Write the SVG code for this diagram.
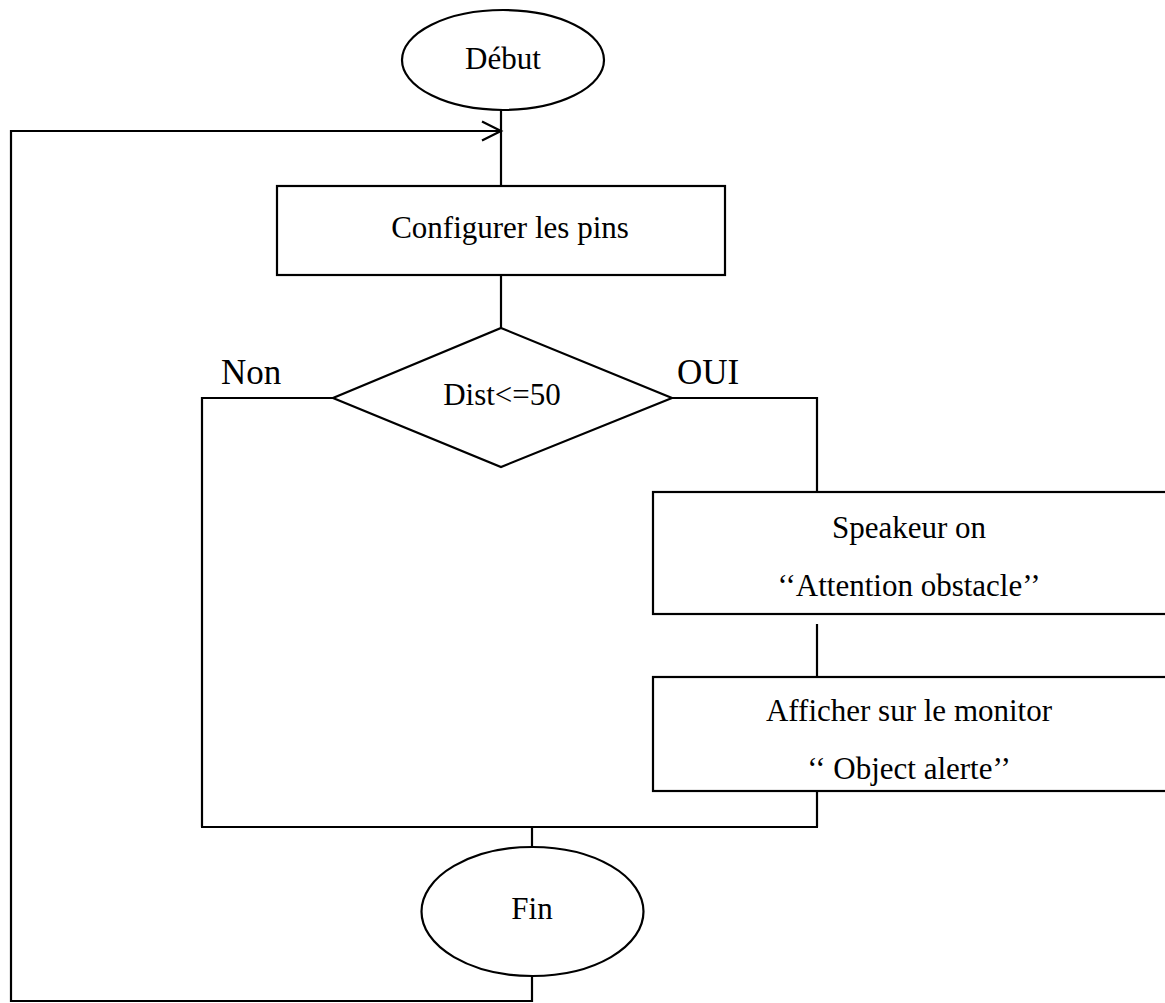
<svg xmlns="http://www.w3.org/2000/svg" width="1165" height="1003" viewBox="0 0 1165 1003">
  <style>
    .shape { fill: #ffffff; stroke: #000000; stroke-width: 2.2; }
    .wire { fill: none; stroke: #000000; stroke-width: 2.2; }
    .lbl { font-family: "Liberation Serif", "Times New Roman", serif; font-size: 31px; fill: #000000; text-anchor: middle; }
    .big { font-size: 35px; text-anchor: start; }
  </style>
  <defs>
    <marker id="openArrow" markerUnits="userSpaceOnUse" markerWidth="24" markerHeight="24" refX="20" refY="12" orient="auto">
      <path d="M1,2.5 L20,12 L1,21.5" fill="none" stroke="#000000" stroke-width="2.2"/>
    </marker>
  </defs>
  <rect x="0" y="0" width="1165" height="1003" fill="#ffffff"/>

  <g id="connectors">
    <!-- start to configuration -->
    <line class="wire" x1="501" y1="110" x2="501" y2="186"/>
    <!-- configuration to decision -->
    <line class="wire" x1="501" y1="275" x2="501" y2="328"/>
    <!-- Non branch -->
    <polyline class="wire" points="333,398 202,398 202,827"/>
    <!-- OUI branch -->
    <polyline class="wire" points="672,398 817,398 817,492"/>
    <line class="wire" x1="817" y1="624" x2="817" y2="677"/>
    <line class="wire" x1="817" y1="791" x2="817" y2="827"/>
    <!-- merge -->
    <line class="wire" x1="201" y1="827" x2="818" y2="827"/>
    <line class="wire" x1="532" y1="827" x2="532" y2="848"/>
    <!-- loop back -->
    <polyline class="wire" points="532,976 532,1001 11,1001 11,131 501,131" marker-end="url(#openArrow)"/>
  </g>

  <g id="debut">
    <ellipse class="shape" cx="503" cy="60" rx="101" ry="50"/>
    <text class="lbl" x="503" y="69">Début</text>
  </g>

  <g id="configurer">
    <rect class="shape" x="277" y="186" width="448" height="89"/>
    <text class="lbl" x="510" y="238">Configurer les pins</text>
  </g>

  <g id="decision">
    <polygon class="shape" points="501,328 672,398 501,467 333,398"/>
    <text class="lbl" x="502" y="405">Dist&lt;=50</text>
  </g>

  <g id="label-non">
    <text class="lbl big" x="221" y="384">Non</text>
  </g>

  <g id="label-oui">
    <text class="lbl big" x="677" y="384">OUI</text>
  </g>

  <g id="speaker">
    <rect class="shape" x="653" y="492" width="515" height="122"/>
    <text class="lbl" x="909" y="538">Speakeur on</text>
    <text class="lbl" x="909" y="596">‘‘Attention obstacle’’</text>
  </g>

  <g id="monitor">
    <rect class="shape" x="653" y="677" width="515" height="114"/>
    <text class="lbl" x="909" y="721">Afficher sur le monitor</text>
    <text class="lbl" x="909" y="779">‘‘ Object alerte’’</text>
  </g>

  <g id="fin">
    <ellipse class="shape" cx="532.5" cy="911.5" rx="111" ry="64.5"/>
    <text class="lbl" x="532" y="919">Fin</text>
  </g>
</svg>
